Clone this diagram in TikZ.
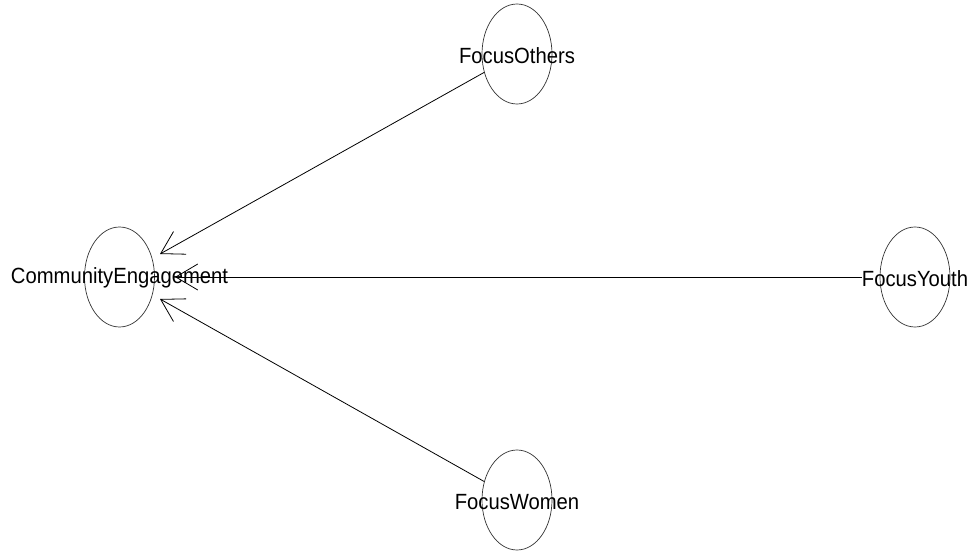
\documentclass[tikz,border=0pt]{standalone}
\usepackage{fontspec}
\setmainfont{Liberation Sans}
\usetikzlibrary{arrows.meta,shapes.geometric}
\begin{document}
\begin{tikzpicture}[x=1pt,y=-1pt,
  oval/.style={draw=black!80,line width=0.7pt,ellipse,minimum width=70pt,minimum height=100pt,inner sep=0pt},
  lab/.style={font=\fontsize{22}{24}\selectfont,inner sep=0pt,xscale=0.92,text=black},
  arr/.style={line width=0.8pt,-{Straight Barb[length=22pt,width=26pt,line width=0.8pt]}}]
\useasboundingbox[fill=white] (0,0) rectangle (971,553);
\node[oval] (ce) at (119.5,277) {};
\node[oval] (fo) at (517,54) {};
\node[oval] (fy) at (915,277) {};
\node[oval] (fw) at (517,500) {};
\node[lab] (celab) at (119.5,278) {CommunityEngagement};
\node[lab] (folab) at (517,56) {FocusOthers};
\node[lab] (fylab) at (915,279) {FocusYouth};
\node[lab] (fwlab) at (517,502) {FocusWomen};
\coordinate (t1) at (160,254);
\coordinate (t2) at (175,277);
\coordinate (t3) at (160,299);
\draw[arr] (fo) -- (t1);
\draw[arr] (fylab.west |- t2) -- (t2);
\draw[arr] (fw) -- (t3);
\end{tikzpicture}
\end{document}
